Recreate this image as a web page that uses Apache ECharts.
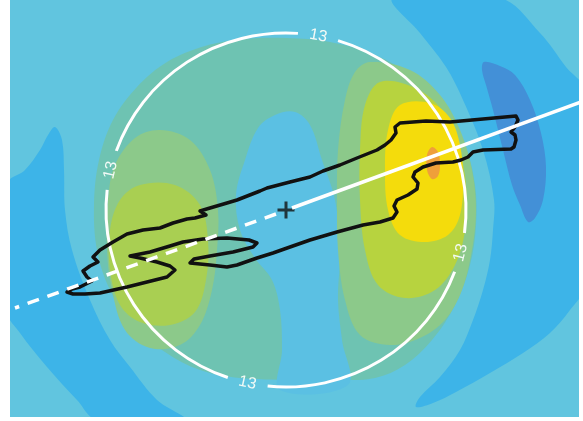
<!DOCTYPE html>
<html>
<head>
<meta charset="utf-8">
<script src="https://cdn.jsdelivr.net/npm/echarts@6/dist/echarts.min.js"></script>
<style>
  html, body { margin: 0; padding: 0; background: #fff; }
  #chart { width: 583px; height: 421px; }
</style>
</head>
<body>
<div id="chart"></div>
<script>
// plot units: origin at the "+" marker, roughly 10 px per unit
// filled contour bands, outlines
const blueLeft = [[-23.1, 8.3], [-22.4, 7.0], [-22.2, 4.0], [-22.1, 0], [-21.4, -4.0], [-19.6, -9.0], [-17.6, -13.0],
    [-15.6, -15.7], [-12.9, -19.0], [-10.1, -21.0], [-18.9, -21.0], [-20.9, -19.0], [-23.9, -15.7], [-26.6, -12.3],
    [-28.0, -10.0], [-28.0, 2.5], [-26.1, 4.0], [-24.6, 6.0], [-23.8, 7.5]];
const blueRight = [[21.4, 21.2], [25.4, 17.7], [28.0, 14.3], [29.8, 12.0], [29.8, -7.7], [28.4, -10.0], [26.4, -12.3],
    [23.7, -14.3], [20.4, -16.3], [17.0, -18.2], [14.7, -19.3], [13.0, -19.7], [13.4, -18.7], [15.4, -16.7],
    [17.4, -14.0], [18.7, -11.0], [19.7, -8.0], [20.4, -5.0], [20.7, -2.0], [20.8, 1.0], [19.7, 6.0], [17.7, 11.0],
    [16.0, 14.3], [13.4, 17.7], [10.7, 21.2]];
const darkBlue = [[19.8, 14.8], [21.4, 14.4], [22.9, 13.5], [24.4, 11.0], [25.5, 7.7], [26.0, 4.3], [25.7, 1.0],
    [24.9, -0.8], [24.2, -1.2], [23.4, 0.5], [22.6, 2.5], [21.7, 6.0], [20.7, 10.0], [20.0, 12.5], [19.6, 14.0]];
const teal = [[0, 17.2], [4.4, 16.8], [8.9, 15.5], [12.9, 13.2], [15.9, 10.2], [17.9, 6.5], [18.9, 2.5], [19.0, -1.5],
    [18.4, -5.5], [16.9, -9.5], [14.6, -13.0], [11.9, -15.5], [8.9, -16.8], [5.4, -17.0], [0.4, -17.0], [-4.6, -16.8],
    [-8.6, -16.0], [-12.1, -14.2], [-15.3, -11.5], [-17.6, -8.0], [-18.9, -4.0], [-19.2, 0.5], [-18.7, 5.0],
    [-17.3, 9.0], [-14.9, 12.3], [-11.9, 14.8], [-8.1, 16.4], [-4.1, 17.1]];
const centre = [[-1.1, 9.5], [0.9, 9.8], [2.4, 8.5], [3.6, 5.0], [4.9, 1.0], [5.4, -4.0], [5.2, -9.0], [5.6, -13.0],
    [6.2, -17.5], [-0.6, -18.0], [-0.4, -14.0], [-0.6, -10.0], [-1.4, -7.0], [-3.1, -4.8], [-4.6, -2.0], [-5.0, 1.5],
    [-4.1, 5.0], [-2.8, 8.2]];
const leftOuter = [[-12.6, 8.0], [-9.6, 7.0], [-7.6, 4.0], [-6.8, 0], [-6.9, -4.0], [-7.4, -8.0], [-8.6, -11.5],
    [-10.6, -13.5], [-13.6, -13.8], [-16.1, -12.0], [-17.4, -8.0], [-17.9, -4.0], [-17.8, 1.0], [-17.1, 4.5], [-15.1, 7.2]];
const leftInner = [[-14.6, 2.5], [-11.1, 2.5], [-8.6, 0.5], [-7.8, -3.0], [-8.0, -7.0], [-9.1, -10.2], [-11.6, -11.5],
    [-14.6, -11.2], [-16.6, -9.5], [-17.6, -6.0], [-17.6, -2.0], [-16.6, 1.0]];
const rightOuter = [[8.4, 14.8], [12.4, 14.0], [15.4, 11.5], [17.4, 8.0], [18.6, 4.0], [19.0, 0], [18.6, -4.0],
    [17.6, -8.0], [15.9, -11.0], [13.4, -12.8], [10.4, -13.5], [7.4, -12.5], [5.9, -9.0], [5.2, -4.0], [5.1, 1.0],
    [5.2, 6.0], [5.9, 11.0], [6.9, 13.8]];
const rightInner = [[9.4, 12.8], [12.9, 12.2], [15.6, 10.0], [17.2, 6.5], [18.0, 2.5], [17.9, -2.0], [16.9, -5.5],
    [14.9, -8.0], [11.9, -8.8], [9.2, -7.5], [7.9, -4.0], [7.4, 1.0], [7.4, 6.0], [7.9, 10.5]];
const rightPeak = [[11.4, 10.5], [14.4, 10.7], [16.4, 9.2], [17.4, 6.5], [17.7, 3.0], [17.4, -0.5], [16.2, -2.5],
    [13.9, -3.2], [11.4, -2.5], [10.2, 0], [9.9, 4.0], [10.2, 8.0]];
const hotSpot = [[14.6, 6.3], [15.2, 5.8], [15.4, 4.5], [15.2, 3.4], [14.6, 3.1], [14.1, 4.0], [14.1, 5.5]];

// black outline
const outline = [[-21.9, -8.2], [-21.4, -7.9], [-20.6, -7.7], [-19.4, -7.1], [-19.9, -6.7], [-20.3, -6.1], [-19.6, -5.6],
    [-18.8, -5.2], [-19.3, -4.7], [-18.6, -4.0], [-17.3, -3.2], [-15.9, -2.4], [-14.3, -2.0], [-12.6, -1.8], [-11.3, -1.3],
    [-9.9, -0.9], [-9.1, -0.8], [-8.0, -0.5], [-8.6, -0.1], [-7.6, 0.2], [-5.9, 0.7], [-4.9, 1.0], [-2.6, 1.9], [-1.9, 2.2],
    [0.4, 2.8], [2.4, 3.3], [3.7, 3.9], [5.4, 4.5], [7.1, 5.2], [9.1, 6.0], [9.9, 6.5], [10.5, 7.0], [11.0, 7.7],
    [10.9, 8.3], [11.4, 8.7], [14.0, 8.9], [16.4, 8.8], [19.7, 9.1], [23.0, 9.4], [23.2, 9.0], [22.9, 8.3], [22.5, 7.8],
    [22.9, 7.5], [23.0, 7.0], [22.8, 6.3], [22.5, 6.1], [19.7, 6.0], [18.7, 5.8], [18.2, 5.3], [17.5, 5.0], [16.7, 4.8],
    [15.0, 4.7], [13.7, 4.3], [12.9, 3.8], [12.7, 3.3], [13.2, 2.7], [13.1, 2.1], [12.2, 1.5], [11.1, 1.0], [10.8, 0.4],
    [11.1, -0.2], [10.7, -0.8], [9.4, -1.2], [7.7, -1.5], [5.1, -2.2], [2.4, -3.0], [0.4, -3.7], [-1.3, -4.3],
    [-2.9, -4.8], [-4.9, -5.5], [-5.9, -5.7], [-7.6, -5.5], [-9.6, -5.3], [-9.2, -4.9], [-7.6, -4.6], [-5.3, -4.2],
    [-3.3, -3.7], [-2.9, -3.3], [-3.7, -3.0], [-5.9, -2.8], [-8.3, -2.9], [-10.3, -3.2], [-11.6, -3.6], [-13.6, -4.2],
    [-15.6, -4.6], [-14.6, -4.8], [-12.9, -5.2], [-11.6, -5.6], [-11.1, -6.0], [-11.9, -6.7], [-13.9, -7.2],
    [-15.9, -7.7], [-18.6, -8.3], [-20.1, -8.4], [-21.3, -8.4]];

// white circle (centre, x radius, y radius) and its "13" labels
const ring = [[0, 0, 18.0, 17.7]];
const ringLabels = [[3.2, 17.3], [-17.6, 4.0], [-3.9, -17.5], [17.6, -4.3]];
const ringText = '13';

// white axis line through the marker
const solidLine = [[0.6, 0.2], [29.8, 10.9]];
const dashedLine = [[-1.0, -0.4], [-27.1, -9.8]];
const marker = [[0, 0]];

const bandColors = {
    blueLeft: '#3db4e8', blueRight: '#3db4e8', darkBlue: '#4390d7', teal: '#6ec3b2', centre: '#5bc0e3',
    leftOuter: '#8cc98a', leftInner: '#a9cf52', rightOuter: '#8cc98a', rightInner: '#b7d33f',
    rightPeak: '#f4dc0c', hotSpot: '#ef9f3a'
};
const bands = { blueLeft, blueRight, darkBlue, teal, centre, leftOuter, leftInner, rightOuter, rightInner, rightPeak, hotSpot };

const chart = echarts.init(document.getElementById('chart'));

function bandSeries (name) {
    const pts = bands[name];
    return {
        type: 'custom',
        name: name,
        data: [[0, 0]],
        clip: true,
        silent: true,
        renderItem: function (params, api) {
            return {
                type: 'polygon',
                shape: { points: pts.map(p => api.coord(p)), smooth: 0.35 },
                style: { fill: bandColors[name] }
            };
        }
    };
}

function ringItem (params, api) {
    const c = api.coord([api.value(0), api.value(1)]);
    const s = api.size([api.value(2), api.value(3)]);
    const rx = s[0], ry = s[1];
    const gap = 6.5 * Math.PI / 180;
    const children = [];
    const angles = ringLabels.map(p => {
        const q = api.coord(p);
        return Math.atan2((q[1] - c[1]) * rx / ry, q[0] - c[0]);
    }).sort((a, b) => a - b);
    for (let i = 0; i < angles.length; i++) {
        const a0 = angles[i] + gap;
        let a1 = (i + 1 < angles.length ? angles[i + 1] : angles[0] + 2 * Math.PI) - gap;
        children.push({
            type: 'arc',
            x: c[0], y: c[1], scaleY: ry / rx,
            shape: { cx: 0, cy: 0, r: rx, startAngle: a0, endAngle: a1, clockwise: true },
            style: { stroke: '#ffffff', lineWidth: 3, fill: null }
        });
        let rot = -(angles[i] + Math.PI / 2);
        while (rot > Math.PI / 2) rot -= Math.PI;
        while (rot <= -Math.PI / 2) rot += Math.PI;
        children.push({
            type: 'text',
            x: c[0] + rx * Math.cos(angles[i]),
            y: c[1] + ry * Math.sin(angles[i]),
            rotation: rot,
            style: {
                text: ringText, fill: '#f2faf6', fontSize: 16, fontFamily: 'Liberation Sans',
                align: 'center', verticalAlign: 'middle', textAlign: 'center', textVerticalAlign: 'middle'
            }
        });
    }
    return { type: 'group', children: children };
}

const option = {
    animation: false,
    grid: { left: 10, right: 4, top: 0, bottom: 4, show: true, backgroundColor: '#61c5df', borderWidth: 0 },
    xAxis: { type: 'value', min: -27.6, max: 29.3, show: false },
    yAxis: { type: 'value', min: -20.7, max: 21.0, show: false },
    series: [
        ...Object.keys(bands).map(bandSeries),
        { type: 'custom', name: 'ring', data: ring, clip: true, silent: true, renderItem: ringItem },
        {
            type: 'line', data: solidLine, symbol: 'none', silent: true,
            lineStyle: { color: '#ffffff', width: 3.5 }
        },
        {
            type: 'line', data: dashedLine, symbol: 'none', silent: true,
            lineStyle: { color: '#ffffff', width: 3.5, type: [12, 9] }
        },
        {
            type: 'custom', name: 'outline', data: [[0, 0]], clip: true, silent: true,
            renderItem: function (params, api) {
                return {
                    type: 'polygon',
                    shape: { points: outline.map(p => api.coord(p)) },
                    style: { fill: null, stroke: '#111111', lineWidth: 3.5, lineJoin: 'round' }
                };
            }
        },
        {
            type: 'scatter', data: marker, silent: true, symbolSize: 17,
            symbol: 'path://M0,7H17V10H0Z M7,0H10V17H7Z',
            itemStyle: { color: '#111111' }
        }
    ]
};
chart.setOption(option);
</script>
</body>
</html>
